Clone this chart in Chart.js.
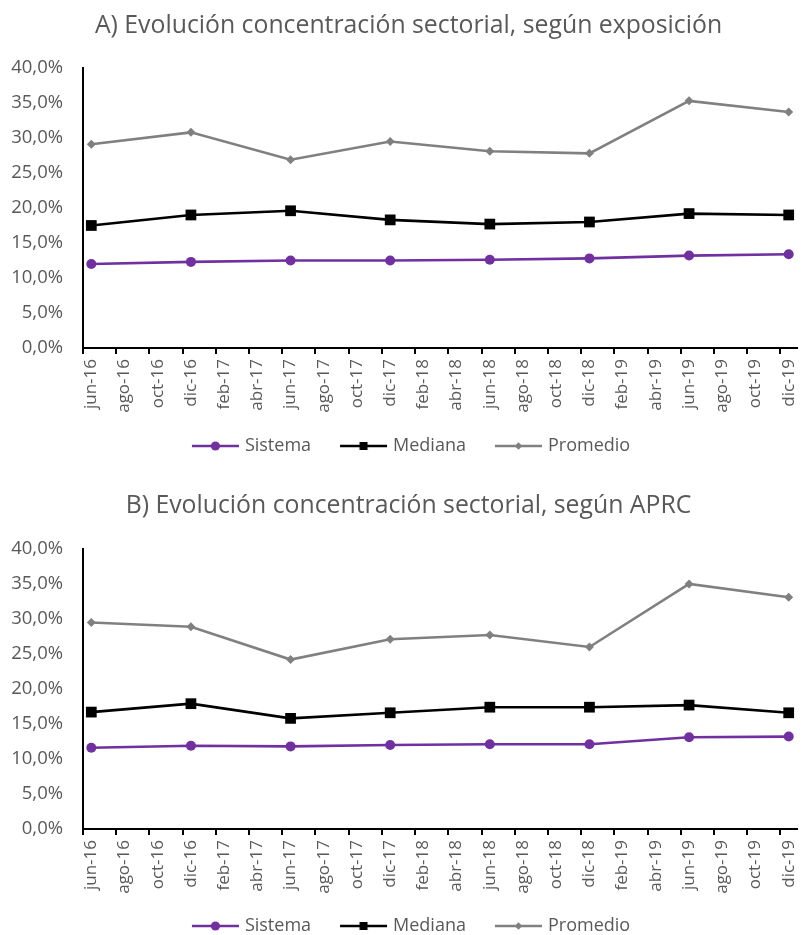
<!DOCTYPE html>
<html>
<head>
<meta charset="utf-8">
<script src="https://cdn.jsdelivr.net/npm/chart.js@4.4.0/dist/chart.umd.min.js"></script>
<style>
  html, body { margin: 0; padding: 0; background: #fff; }
  .panel { position: relative; width: 806px; }
</style>
</head>
<body>
<div class="panel" style="height:478px"><canvas id="chartA"></canvas></div>
<div class="panel" style="height:457px"><canvas id="chartB"></canvas></div>
<script>
// Bimonthly tick labels along the time axis
const monthLabels = ['jun-16','ago-16','oct-16','dic-16','feb-17','abr-17','jun-17','ago-17','oct-17','dic-17',
  'feb-18','abr-18','jun-18','ago-18','oct-18','dic-18','feb-19','abr-19','jun-19','ago-19','oct-19','dic-19'];
// Observation dates, in months counted from jun-16 (jun-16 ... dic-19)
const obsMonths = [0, 6, 12, 18, 24, 30, 36, 42];
const seriesNames = ['Sistema', 'Mediana', 'Promedio'];

// A) concentration by exposure (%)
const exposSistema  = [12.0, 12.3, 12.5, 12.5, 12.6, 12.8, 13.2, 13.4];
const exposMediana  = [17.5, 19.0, 19.6, 18.3, 17.7, 18.0, 19.2, 19.0];
const exposPromedio = [29.1, 30.8, 26.9, 29.5, 28.1, 27.8, 35.3, 33.7];

// B) concentration by APRC (%)
const aprcSistema  = [11.6, 11.9, 11.8, 12.0, 12.1, 12.1, 13.1, 13.2];
const aprcMediana  = [16.7, 17.9, 15.8, 16.6, 17.4, 17.4, 17.7, 16.6];
const aprcPromedio = [29.5, 28.9, 24.2, 27.1, 27.7, 26.0, 35.0, 33.1];

const FONT = '"Open Sans", sans-serif';
const TEXT = '#595959';
Chart.defaults.font.family = FONT;
Chart.defaults.color = TEXT;

const styles = [
  { color: '#7030A0', point: 'circle',  radius: 5 },
  { color: '#000000', point: 'rect',    radius: 7.6 },
  { color: '#808080', point: 'rectRot', radius: 4.5 }
];

// Legend swatch: line segment with the series marker, plus blank lead-in space
const GAP = 19;          // extra space between legend entries
const BOX = 44 + GAP;    // legend box width
function legendIcon(color, kind) {
  const c = document.createElement('canvas');
  c.width = BOX + 8; c.height = 16;
  const g = c.getContext('2d');
  const x0 = GAP + 4, x1 = x0 + 47, mx = (x0 + x1) / 2;
  g.strokeStyle = color; g.lineWidth = 2.6;
  g.beginPath(); g.moveTo(x0, 8); g.lineTo(x1, 8); g.stroke();
  g.fillStyle = color;
  if (kind === 'circle') { g.beginPath(); g.arc(mx, 8, 4.6, 0, Math.PI * 2); g.fill(); }
  else if (kind === 'rect') { g.fillRect(mx - 4, 4, 8, 8); }
  else { g.beginPath(); g.moveTo(mx, 4.2); g.lineTo(mx + 3.8, 8); g.lineTo(mx, 11.8); g.lineTo(mx - 3.8, 8); g.closePath(); g.fill(); }
  return c;
}
const icons = styles.map(s => legendIcon(s.color, s.point));

const labelPos = monthLabels.map((_, i) => i * 2);
const tickBounds = labelPos.map(v => v - 0.5);

// places the title and legend boxes after the layout pass
const placeBoxes = {
  id: 'placeBoxes',
  afterLayout(chart, args, opts) {
    const t = chart.titleBlock, l = chart.legend;
    if (t) { t.left += opts.titleDx; t.right += opts.titleDx; }
    if (l) {
      l.left += opts.legendDx; l.right += opts.legendDx;
      const dy = opts.legendCenter - (l.top + 10 + 9);
      l.top += dy; l.bottom += dy;
    }
  }
};

function makeChart(id, title, values, geo) {
  const datasets = values.map((vals, k) => ({
    label: seriesNames[k],
    data: vals.map((v, i) => ({ x: obsMonths[i], y: v })),
    borderColor: styles[k].color,
    backgroundColor: styles[k].color,
    borderWidth: 2.6,
    tension: 0,
    pointStyle: styles[k].point,
    pointRadius: styles[k].radius,
    pointHoverRadius: styles[k].radius,
    pointBorderWidth: 0,
    pointBackgroundColor: styles[k].color,
    xAxisID: 'x',
    yAxisID: 'y'
  }));

  return new Chart(document.getElementById(id), {
    type: 'line',
    data: { datasets },
    plugins: [placeBoxes],
    options: {
      responsive: true,
      maintainAspectRatio: false,
      animation: false,
      events: [],
      layout: { padding: { left: 0, right: 9, top: 0, bottom: geo.padBottom } },
      plugins: {
        tooltip: { enabled: false },
        placeBoxes: { titleDx: 10, legendDx: 3, legendCenter: geo.legendCenter },
        title: {
          display: true,
          text: title,
          color: TEXT,
          font: { size: 24.8, weight: 'normal', family: FONT, lineHeight: 1.2 },
          padding: { top: geo.titleCenter - 14.9, bottom: geo.areaTop - geo.titleCenter - 14.9 }
        },
        legend: {
          position: 'bottom',
          labels: {
            usePointStyle: true,
            pointStyleWidth: BOX,
            boxHeight: 16,
            padding: 10,
            color: TEXT,
            font: { size: 18, family: FONT },
            generateLabels: (chart) => chart.data.datasets.map((ds, i) => ({
              text: ds.label,
              pointStyle: icons[i],
              fillStyle: ds.borderColor,
              strokeStyle: ds.borderColor,
              lineWidth: 0,
              fontColor: TEXT,
              hidden: false,
              datasetIndex: i
            }))
          }
        }
      },
      scales: {
        x: {
          type: 'linear',
          position: 'bottom',
          min: -0.5,
          max: 42.5,
          afterBuildTicks: s => { s.ticks = tickBounds.map(v => ({ value: v })); },
          ticks: { display: false, autoSkip: false },
          grid: { drawOnChartArea: false, drawTicks: true, tickLength: 6, color: '#000', lineWidth: 2 },
          border: { display: true, color: '#000', width: 2 },
          afterFit: s => { s.height = 6; s.paddingLeft = 0; s.paddingRight = 0; }
        },
        xl: {
          type: 'linear',
          position: 'bottom',
          min: -0.5,
          max: 42.5,
          afterBuildTicks: s => { s.ticks = labelPos.map(v => ({ value: v })); },
          ticks: {
            autoSkip: false,
            minRotation: 90,
            maxRotation: 90,
            padding: 5,
            color: TEXT,
            font: { size: 17, family: FONT },
            callback: (v, i) => monthLabels[i]
          },
          grid: { display: false, drawTicks: false },
          border: { display: false },
          afterFit: s => { s.height = 62; s.paddingLeft = 0; s.paddingRight = 0; }
        },
        y: {
          min: 0,
          max: 40,
          ticks: {
            stepSize: 5,
            padding: 20,
            color: TEXT,
            font: { size: 18.5, family: FONT },
            callback: v => v.toFixed(1).replace('.', ',') + '%'
          },
          grid: { display: false, drawTicks: false },
          border: { display: true, color: '#000', width: 2 },
          afterFit: s => { s.width = 83; }
        }
      }
    }
  });
}

// canvas heights 478 / 457; plot areas 68–348 and 71–351
makeChart('chartA', 'A) Evolución concentración sectorial, según exposición',
  [exposSistema, exposMediana, exposPromedio],
  { titleCenter: 26, areaTop: 68, padBottom: 478 - 38 - 62 - 6 - 348, legendCenter: 446 });
makeChart('chartB', 'B) Evolución concentración sectorial, según APRC',
  [aprcSistema, aprcMediana, aprcPromedio],
  { titleCenter: 28, areaTop: 71, padBottom: 457 - 38 - 62 - 6 - 351, legendCenter: 448 });
</script>
</body>
</html>
